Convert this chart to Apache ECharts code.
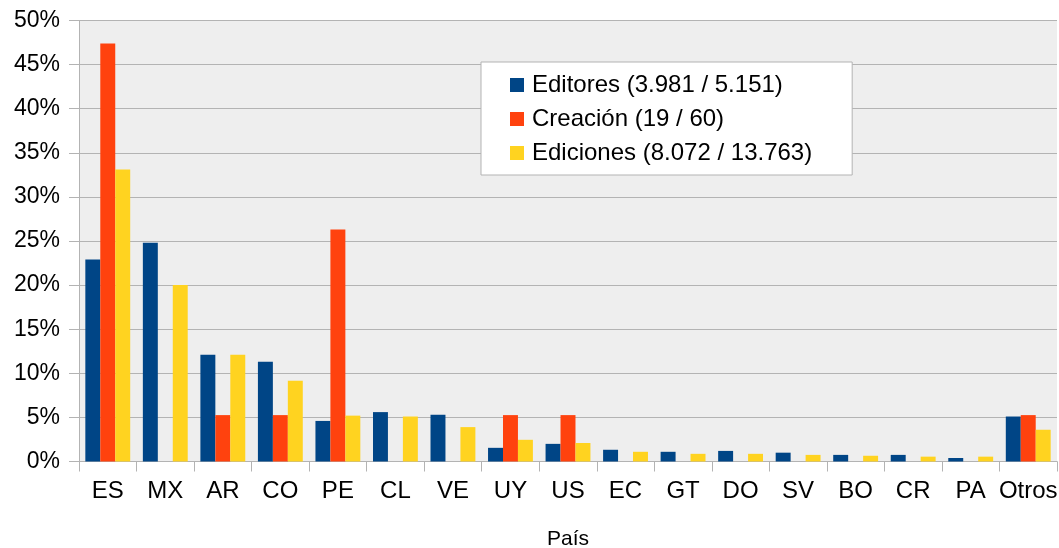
<!DOCTYPE html>
<html><head><meta charset="utf-8">
<script src="https://cdn.jsdelivr.net/npm/echarts@6/dist/echarts.min.js"></script>
<style>html,body{margin:0;padding:0;background:#fff}#c{width:1059px;height:548px}</style>
</head><body><div id="c"></div>
<script>
const categories = ['ES','MX','AR','CO','PE','CL','VE','UY','US','EC','GT','DO','SV','BO','CR','PA','Otros'];
const editores = [22.9,24.8,12.1,11.3,4.6,5.6,5.3,1.55,2.0,1.33,1.1,1.2,1.0,0.75,0.75,0.4,5.1];
const creacion = [47.4,0,5.26,5.26,26.3,0,0,5.26,5.26,0,0,0,0,0,0,0,5.26];
const ediciones = [33.1,20.0,12.1,9.15,5.2,5.1,3.9,2.46,2.1,1.1,0.87,0.87,0.75,0.65,0.55,0.55,3.6];
const seriesNames = ['Editores (3.981 / 5.151)','Creación (19 / 60)','Ediciones (8.072 / 13.763)'];
const colors = ['#004586','#ff420e','#ffd320'];
const font = 'Liberation Sans';
const chart = echarts.init(document.getElementById('c'));
chart.setOption({
  animation:false,
  textStyle:{fontFamily:font},
  color:colors,
  grid:{left:79,right:2,top:20.5,bottom:86.5,show:true,backgroundColor:'#eeeeee',borderWidth:0,outerBoundsMode:'none',containLabel:false},
  legend:{
    orient:'vertical',left:481,top:62,
    backgroundColor:'#ffffff',borderColor:'#b3b3b3',borderWidth:1,borderRadius:0,
    padding:[11,40,10,29],itemWidth:14,itemHeight:14,itemGap:10,
    icon:'rect',
    textStyle:{fontSize:24,color:'#000',fontFamily:font,padding:[0,0,0,3]},
    data:seriesNames
  },
  xAxis:{
    type:'category',data:categories,
    name:'País',nameLocation:'middle',nameGap:67,
    nameTextStyle:{fontSize:21,color:'#000',fontFamily:font},
    axisLine:{lineStyle:{color:'#b3b3b3',width:1}},
    axisTick:{show:true,length:10,lineStyle:{color:'#b3b3b3'}},
    axisLabel:{fontSize:24,color:'#000',margin:18,interval:0,fontFamily:font},
    splitLine:{show:false}
  },
  yAxis:{
    type:'value',min:0,max:50,interval:5,
    axisLine:{show:true,lineStyle:{color:'#b3b3b3'}},
    axisTick:{show:true,length:10,lineStyle:{color:'#b3b3b3'}},
    axisLabel:{fontSize:23,color:'#000',margin:19,formatter:'{value}%',fontFamily:font},
    splitLine:{show:true,lineStyle:{color:'#b3b3b3',width:1}}
  },
  series:[
    {name:seriesNames[0],type:'bar',data:editores,barGap:'0%',barCategoryGap:'22%'},
    {name:seriesNames[1],type:'bar',data:creacion,barGap:'0%',barCategoryGap:'22%'},
    {name:seriesNames[2],type:'bar',data:ediciones,barGap:'0%',barCategoryGap:'22%'}
  ]
});
</script></body></html>
